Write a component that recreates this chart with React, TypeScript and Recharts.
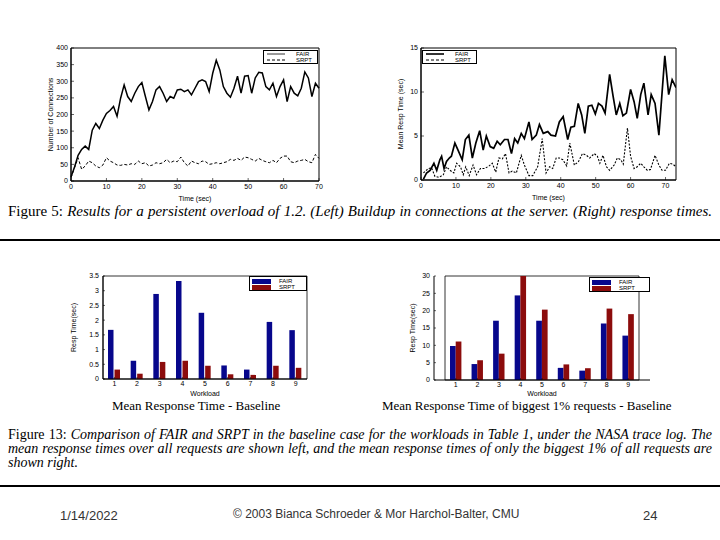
import React from 'react';
import { LineChart, Line, BarChart, Bar, XAxis, YAxis, Legend, ReferenceArea } from 'recharts';

// Figure 5 (left): connections over time
const connTime = [
  0, 1, 2, 3, 4, 5, 6, 7, 8, 9, 10, 11, 12, 13, 14, 15, 16, 17, 18, 19, 20, 21, 22, 23, 24,
  25, 26, 27, 28, 29, 30, 31, 32, 33, 34, 35, 36, 37, 38, 39, 40, 41, 42, 43, 44, 45, 46, 47,
  48, 49, 50, 51, 52, 53, 54, 55, 56, 57, 58, 59, 60, 61, 62, 63, 64, 65, 66, 67, 68, 69, 70,
];
const fairConn = [
  12, 42, 77, 95, 105, 95, 153, 173, 158, 183, 203, 212, 224, 195, 249, 289, 254, 239, 264, 284,
  296, 254, 214, 239, 274, 284, 264, 239, 254, 249, 274, 276, 269, 274, 259, 279, 299, 304, 299, 269,
  324, 363, 334, 284, 264, 252, 279, 315, 264, 315, 317, 264, 310, 327, 325, 284, 274, 294, 254, 284,
  304, 239, 284, 264, 256, 279, 328, 310, 254, 294, 279,
];
const srptConn = [
  10, 40, 70, 35, 45, 60, 55, 45, 40, 48, 70, 60, 55, 48, 47, 50, 48, 52, 50, 60,
  52, 55, 45, 48, 55, 52, 55, 65, 55, 60, 58, 72, 55, 45, 60, 55, 52, 60, 58, 50,
  52, 55, 52, 55, 58, 65, 62, 68, 62, 72, 70, 65, 60, 68, 62, 58, 55, 62, 55, 68,
  75, 75, 58, 55, 60, 62, 65, 58, 55, 80, 68,
];

// Figure 5 (right): mean response time over time
const fairRespTime = [
  0.7, 1.6, 2.6, 3.7, 4.5, 5.4, 5.9, 6.6, 7.3, 8.1, 8.7, 9.7, 10.6, 11.8, 12.7, 13.7, 14.7, 15.7,
  16.8, 17.8, 18.7, 19.8, 20.8, 21.8, 22.7, 23.9, 24.9, 25.9, 26.8, 27.7, 28.7, 29.6, 30.9, 31.8,
  33.0, 33.9, 35.0, 36.3, 37.2, 38.5, 39.6, 40.7, 42.0, 42.9, 43.9, 45.0, 46.0, 46.9, 47.9, 48.9,
  49.9, 50.8, 51.8, 52.7, 54.0, 55.0, 55.9, 56.9, 57.8, 58.8, 60.0, 61.0, 61.9, 62.9, 63.8, 65.0,
  65.9, 67.0, 68.1, 69.8, 70.9, 71.9, 73.0,
];
const fairResp = [
  0.1, 0.8, 1.1, 1.9, 1.1, 2.3, 2.7, 1.3, 2.1, 2.5, 2.7, 4.2, 3.4, 2.3, 4.6, 5.1, 2.5, 4.2,
  5.6, 3.4, 5.0, 3.8, 3.6, 4.4, 4.0, 4.6, 4.6, 3.0, 4.7, 4.2, 5.3, 4.7, 6.6, 4.6, 5.1, 6.3,
  5.3, 5.5, 5.1, 5.0, 6.6, 7.2, 4.6, 6.0, 6.1, 8.7, 7.4, 5.3, 8.4, 8.5, 7.5, 8.7, 8.4, 7.6,
  12.0, 9.5, 7.4, 8.7, 7.3, 7.6, 10.3, 8.9, 7.0, 9.7, 11.0, 7.4, 9.7, 8.7, 5.1, 14.1, 9.7, 11.4, 10.5,
];
const srptRespTime = [
  0.7, 2.1, 3.0, 4.0, 5.2, 6.4, 7.3, 8.3, 9.4, 10.2, 11.3, 12.1, 12.8, 13.8, 14.9, 15.9, 17.0,
  18.2, 19.5, 20.4, 21.4, 22.3, 23.3, 24.2, 25.2, 26.1, 27.3, 28.7, 29.6, 30.9, 32.0, 33.4, 34.7,
  35.8, 36.8, 37.7, 38.7, 39.6, 40.6, 41.7, 42.6, 43.9, 45.1, 46.2, 47.4, 48.3, 49.6, 50.5, 51.2,
  52.1, 53.1, 54.0, 55.3, 56.2, 57.2, 57.9, 59.1, 60.0, 61.0, 61.9, 62.9, 63.8, 64.8, 65.7, 67.0,
  68.1, 69.0, 70.0, 71.1, 72.1, 73.0,
];
const srptResp = [
  0.8, 1.3, 1.4, 0.4, 0.3, 0.6, 1.5, 1.1, 0.8, 1.9, 1.5, 0.6, 1.5, 0.5, 1.7, 0.6, 1.3, 1.3,
  1.6, 1.9, 0.9, 2.5, 2.4, 3.0, 0.8, 1.0, 0.8, 2.8, 1.7, 0.5, 0.5, 1.5, 4.7, 0.8, 1.5, 1.3,
  2.5, 2.5, 2.3, 1.6, 4.2, 1.7, 2.1, 3.0, 2.8, 2.5, 3.0, 2.7, 1.9, 2.8, 1.5, 1.1, 1.7, 2.5,
  2.3, 1.8, 5.9, 2.7, 1.3, 1.5, 1.9, 1.5, 1.1, 1.2, 2.8, 1.7, 1.1, 1.1, 1.9, 1.8, 1.5,
];

// Figure 13: baseline workloads
const workloads = ['1', '2', '3', '4', '5', '6', '7', '8', '9'];
const fairMean = [1.67, 0.62, 2.89, 3.33, 2.25, 0.46, 0.32, 1.94, 1.66];
const srptMean = [0.32, 0.18, 0.58, 0.62, 0.45, 0.16, 0.14, 0.45, 0.38];
const fairBig = [9.8, 4.6, 17.1, 24.4, 17.1, 3.5, 2.7, 16.3, 12.8];
const srptBig = [11.1, 5.7, 7.6, 30, 20.3, 4.5, 3.4, 20.6, 19.0];

const connTicks = [0, 50, 100, 150, 200, 250, 300, 350, 400];
const timeTicks = [0, 10, 20, 30, 40, 50, 60, 70];
const respTicks = [0, 5, 10, 15];
const meanTicks = [0, 0.5, 1, 1.5, 2, 2.5, 3, 3.5];
const bigTicks = [0, 5, 10, 15, 20, 25, 30];

const FAIR_BLUE = '#07078c';
const SRPT_RED = '#8c0c0c';
const SANS = '"Liberation Sans", Arial, sans-serif';
const SERIF = '"Liberation Serif", "Times New Roman", serif';
const tickStyle = { fontSize: 7, fontFamily: SANS, fill: '#000' };
const labelStyle = { fontSize: 7, fontFamily: SANS, fill: '#000', textAnchor: 'middle' as const };
// matlab style: short tick marks pointing into the plot
const inTick = { stroke: '#000', strokeWidth: 0.6 };

const connFairData = connTime.map((t, i) => ({ t, v: fairConn[i] }));
const connSrptData = connTime.map((t, i) => ({ t, v: srptConn[i] }));
const respFairData = fairRespTime.map((t, i) => ({ t, v: fairResp[i] }));
const respSrptData = srptRespTime.map((t, i) => ({ t, v: srptResp[i] }));
const meanData = workloads.map((w, i) => ({ w, fair: fairMean[i], srpt: srptMean[i] }));
const bigData = workloads.map((w, i) => ({ w, fair: fairBig[i], srpt: srptBig[i] }));

const LineLegend = ({ bold }: { bold?: boolean }) => (
  <div
    style={{
      border: '1px solid #000',
      background: '#fff',
      boxSizing: 'border-box',
      width: 55,
      height: 14,
      padding: '0 2px',
      fontFamily: SANS,
      fontSize: 6,
      lineHeight: '6px',
    }}
  >
    {[
      { name: 'FAIR', dash: undefined, w: bold ? 1.6 : 0.8 },
      { name: 'SRPT', dash: '3 2', w: 1 },
    ].map((r) => (
      <div key={r.name} style={{ display: 'flex', alignItems: 'center', height: 6 }}>
        <svg width={20} height={6}>
          <line x1={1} y1={3} x2={19} y2={3} stroke="#000" strokeWidth={r.w} strokeDasharray={r.dash} />
        </svg>
        <span style={{ marginLeft: 10 }}>{r.name}</span>
      </div>
    ))}
  </div>
);

const BarLegend = ({ width }: { width: number }) => (
  <div
    style={{
      border: '1px solid #000',
      background: '#fff',
      boxSizing: 'border-box',
      width,
      height: 15,
      padding: '1px 2px',
      fontFamily: SANS,
      fontSize: 6,
      lineHeight: '6px',
    }}
  >
    {[
      { name: 'FAIR', color: FAIR_BLUE },
      { name: 'SRPT', color: SRPT_RED },
    ].map((r) => (
      <div key={r.name} style={{ display: 'flex', alignItems: 'center', height: 6 }}>
        <div style={{ width: 19, height: 5, background: r.color }} />
        <span style={{ marginLeft: 8 }}>{r.name}</span>
      </div>
    ))}
  </div>
);

const ConnectionsChart = () => (
  <LineChart width={285} height={165} margin={{ top: 8, right: 6, left: 3, bottom: 4 }}>
    <XAxis
      type="number"
      dataKey="t"
      domain={[0, 70]}
      ticks={timeTicks}
      tick={tickStyle}
      tickLine={inTick}
      tickSize={-3}
      tickMargin={6}
      axisLine={{ stroke: '#000' }}
      height={20}
      label={{ value: 'Time (sec)', position: 'insideBottom', offset: 0, style: labelStyle }}
    />
    <YAxis
      type="number"
      domain={[0, 400]}
      ticks={connTicks}
      tick={tickStyle}
      tickLine={inTick}
      tickSize={-3}
      tickMargin={6}
      axisLine={{ stroke: '#000' }}
      width={28}
      label={{ value: 'Number of Connections', angle: -90, position: 'insideLeft', offset: 8, style: labelStyle }}
    />
    <ReferenceArea x1={0} x2={70} y1={0} y2={400} fill="none" stroke="#000" strokeWidth={1} ifOverflow="visible" />
    <Legend
      layout="vertical"
      align="center"
      verticalAlign="middle"
      wrapperStyle={{ left: 223, top: 10, width: 55, height: 14 }}
      content={() => <LineLegend />}
    />
    <Line data={connFairData} dataKey="v" name="FAIR" stroke="#000" strokeWidth={1.5} dot={false} isAnimationActive={false} />
    <Line data={connSrptData} dataKey="v" name="SRPT" stroke="#000" strokeWidth={1} strokeDasharray="3 2" dot={false} isAnimationActive={false} />
  </LineChart>
);

const ResponseChart = () => (
  <LineChart width={290} height={165} margin={{ top: 8, right: 9, left: 4, bottom: 5 }}>
    <XAxis
      type="number"
      dataKey="t"
      domain={[0, 73]}
      allowDataOverflow
      ticks={timeTicks}
      tick={tickStyle}
      tickLine={inTick}
      tickSize={-3}
      tickMargin={6}
      axisLine={{ stroke: '#000' }}
      height={20}
      label={{ value: 'Time (sec)', position: 'insideBottom', offset: 0, style: labelStyle }}
    />
    <YAxis
      type="number"
      domain={[0, 15]}
      allowDataOverflow
      ticks={respTicks}
      tick={tickStyle}
      tickLine={inTick}
      tickSize={-3}
      tickMargin={6}
      axisLine={{ stroke: '#000' }}
      width={22}
      label={{ value: 'Mean Resp Time (sec)', angle: -90, position: 'insideLeft', offset: 2, style: labelStyle }}
    />
    <ReferenceArea x1={0} x2={73} y1={0} y2={15} fill="none" stroke="#000" strokeWidth={1} ifOverflow="visible" />
    <Legend
      layout="vertical"
      align="center"
      verticalAlign="middle"
      wrapperStyle={{ left: 27, top: 10, width: 55, height: 14 }}
      content={() => <LineLegend bold />}
    />
    <Line data={respFairData} dataKey="v" name="FAIR" stroke="#000" strokeWidth={1.7} dot={false} isAnimationActive={false} />
    <Line data={respSrptData} dataKey="v" name="SRPT" stroke="#000" strokeWidth={1.1} strokeDasharray="2 1.5" dot={false} isAnimationActive={false} />
  </LineChart>
);

const MeanChart = () => (
  <BarChart width={245} height={134} data={meanData} margin={{ top: 11, right: 8, left: 5, bottom: 0 }} barGap={1} barSize={5.5}>
    <XAxis
      dataKey="w"
      tick={tickStyle}
      tickLine={inTick}
      tickSize={-2}
      tickMargin={4}
      axisLine={{ stroke: '#000' }}
      height={20}
      label={{ value: 'Workload', position: 'insideBottom', offset: 3, style: labelStyle }}
    />
    <YAxis
      type="number"
      domain={[0, 3.5]}
      ticks={meanTicks}
      tick={tickStyle}
      tickLine={inTick}
      tickSize={-2}
      tickMargin={6}
      axisLine={{ stroke: '#000' }}
      width={28}
      label={{ value: 'Resp Time(sec)', angle: -90, position: 'insideLeft', offset: -1, style: labelStyle }}
    />
    <ReferenceArea y1={0} y2={3.5} fill="none" stroke="#000" strokeWidth={0.8} ifOverflow="visible" />
    <Legend
      layout="vertical"
      align="center"
      verticalAlign="middle"
      wrapperStyle={{ left: 179, top: 11, width: 58, height: 15 }}
      content={() => <BarLegend width={58} />}
    />
    <Bar dataKey="fair" name="FAIR" fill={FAIR_BLUE} isAnimationActive={false} />
    <Bar dataKey="srpt" name="SRPT" fill={SRPT_RED} isAnimationActive={false} />
  </BarChart>
);

const BigChart = () => (
  <BarChart width={290} height={134} data={bigData} margin={{ top: 11, right: 45, left: 5, bottom: 0 }} barGap={0} barSize={5.7}>
    <XAxis
      dataKey="w"
      padding={{ left: 11, right: 11 }}
      tick={tickStyle}
      tickLine={inTick}
      tickSize={-2}
      tickMargin={4}
      axisLine={{ stroke: '#000' }}
      height={19}
      label={{ value: 'Workload', position: 'insideBottom', offset: 3, style: labelStyle }}
    />
    <YAxis
      type="number"
      domain={[0, 30]}
      allowDataOverflow
      ticks={bigTicks}
      tick={tickStyle}
      tickLine={inTick}
      tickSize={-2}
      tickMargin={6}
      axisLine={{ stroke: '#000' }}
      width={24}
      label={{ value: 'Resp Time(sec)', angle: -90, position: 'insideLeft', offset: 3, style: labelStyle }}
    />
    <ReferenceArea y1={0} y2={30} fill="none" stroke="#000" strokeWidth={0.8} ifOverflow="visible" />
    <Legend
      layout="vertical"
      align="center"
      verticalAlign="middle"
      wrapperStyle={{ left: 184, top: 12, width: 61, height: 15 }}
      content={() => <BarLegend width={61} />}
    />
    <Bar dataKey="fair" name="FAIR" fill={FAIR_BLUE} isAnimationActive={false} />
    <Bar dataKey="srpt" name="SRPT" fill={SRPT_RED} isAnimationActive={false} />
  </BarChart>
);

const abs = (left: number, top: number, extra: React.CSSProperties = {}): React.CSSProperties => ({
  position: 'absolute',
  left,
  top,
  ...extra,
});

const justifyLine = (size: number): React.CSSProperties => ({
  width: 704,
  textAlign: 'justify',
  textAlignLast: 'justify',
  fontFamily: SERIF,
  fontSize: size,
  lineHeight: '14px',
});

export default function App() {
  return (
    <div style={{ position: 'absolute', left: 0, top: 0, width: 720, height: 540, background: '#fff', overflow: 'hidden' }}>
      <div style={abs(40, 40)}>
        <ConnectionsChart />
      </div>
      <div style={abs(395, 40)}>
        <ResponseChart />
      </div>

      <div style={{ ...abs(8, 204), ...justifyLine(15) }}>
        Figure 5: <i>Results for a persistent overload of 1.2. (Left) Buildup in connections at the server. (Right) response times.</i>
      </div>
      <div style={abs(0, 239, { width: 720, height: 2, background: '#000' })} />

      <div style={abs(70, 265)}>
        <MeanChart />
      </div>
      <div style={abs(405, 265)}>
        <BigChart />
      </div>

      <div style={abs(112, 399, { fontFamily: SERIF, fontSize: 13, lineHeight: '14px', whiteSpace: 'nowrap' })}>
        Mean Response Time - Baseline
      </div>
      <div style={abs(382, 399, { fontFamily: SERIF, fontSize: 13, lineHeight: '14px', whiteSpace: 'nowrap' })}>
        Mean Response Time of biggest 1% requests - Baseline
      </div>

      <div style={{ ...abs(8, 428), ...justifyLine(14) }}>
        Figure 13: <i>Comparison of FAIR and SRPT in the baseline case for the workloads in Table 1, under the NASA trace log. The</i>
      </div>
      <div style={{ ...abs(8, 442), ...justifyLine(14) }}>
        <i>mean response times over all requests are shown left, and the mean response times of only the biggest 1% of all requests are</i>
      </div>
      <div style={{ ...abs(8, 456), fontFamily: SERIF, fontSize: 14, lineHeight: '14px' }}>
        <i>shown right.</i>
      </div>
      <div style={abs(0, 485, { width: 720, height: 2, background: '#000' })} />

      <div style={abs(60, 509, { fontFamily: SANS, fontSize: 13, color: '#333', lineHeight: '14px' })}>1/14/2022</div>
      <div style={abs(233, 507, { fontFamily: SANS, fontSize: 12, color: '#333', lineHeight: '14px', whiteSpace: 'nowrap' })}>
        © 2003 Bianca Schroeder &amp; Mor Harchol-Balter, CMU
      </div>
      <div style={abs(643, 509, { fontFamily: SANS, fontSize: 13, color: '#333', lineHeight: '14px' })}>24</div>
    </div>
  );
}
